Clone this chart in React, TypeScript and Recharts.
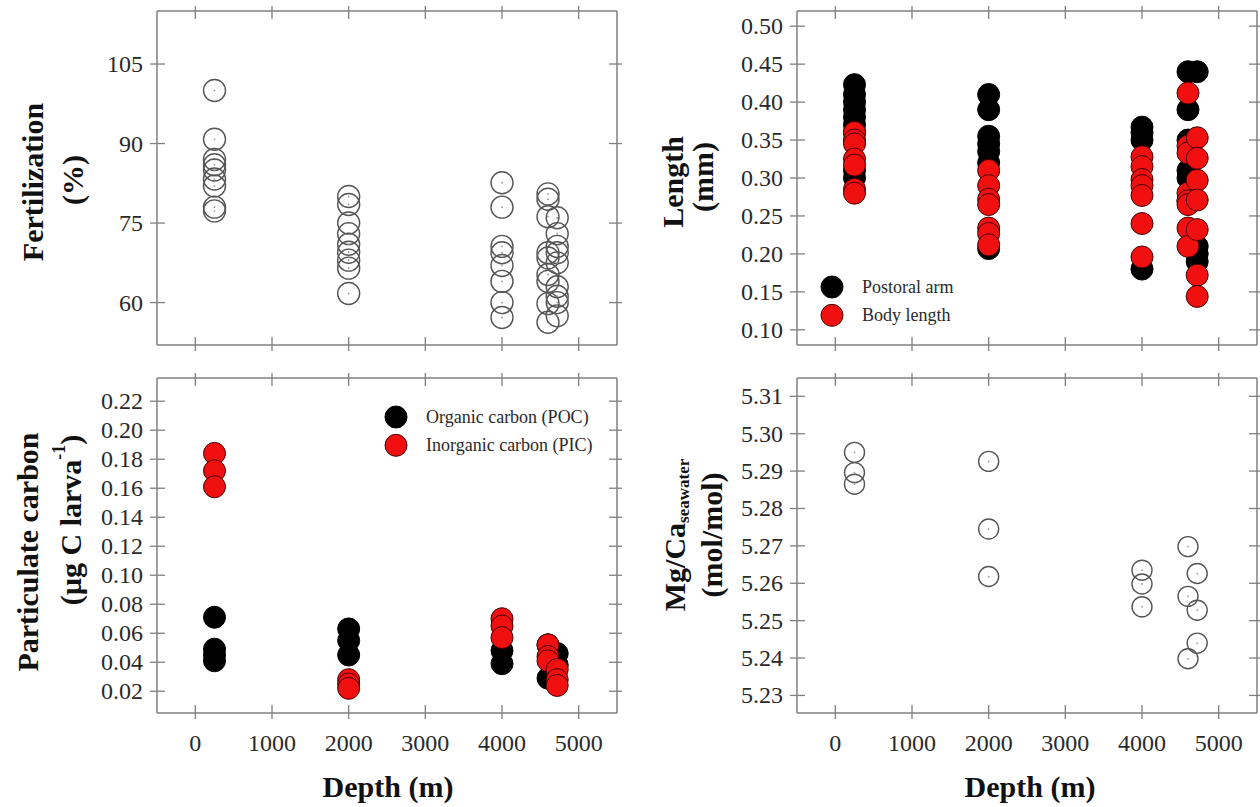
import React from 'react';
import { ScatterChart, Scatter, XAxis, YAxis, Legend } from 'recharts';

// sampling depths (m)
const SITES = [250, 2000, 4000, 4600, 4720];
const DEPTH_TICKS = [0, 1000, 2000, 3000, 4000, 5000];

// Fertilization (%)
const FERT_250 = [100, 90.8, 87, 86, 85, 83.3, 82, 78, 77.3];
const FERT_2000 = [80, 78.5, 75, 73, 71, 69.5, 68, 66.5, 61.7];
const FERT_4000 = [82.6, 78, 70.6, 69.4, 67, 64, 60, 57.2];
const FERT_4600 = [80.5, 79.5, 76.2, 69.4, 68.4, 65.3, 64, 59.8, 56.3];
const FERT_4720 = [76, 73, 70.6, 69.4, 67.5, 63, 61.2, 60, 57.5];
const FERT_TICKS = [60, 75, 90, 105];

// Length (mm)
const ARM_250 = [0.423, 0.41, 0.4, 0.39, 0.38, 0.37, 0.36, 0.31, 0.3];
const ARM_2000 = [0.41, 0.39, 0.355, 0.345, 0.335, 0.32, 0.207];
const ARM_4000 = [0.367, 0.36, 0.35, 0.18];
const ARM_4600 = [0.44, 0.39, 0.35, 0.31, 0.3, 0.27];
const ARM_4720 = [0.44, 0.21, 0.2, 0.19];
const BODY_250 = [0.36, 0.35, 0.345, 0.325, 0.317, 0.285, 0.28];
const BODY_2000 = [0.31, 0.29, 0.272, 0.265, 0.234, 0.227, 0.212];
const BODY_4000 = [0.328, 0.315, 0.298, 0.29, 0.277, 0.24, 0.196];
const BODY_4600 = [0.412, 0.342, 0.333, 0.28, 0.27, 0.265, 0.234, 0.21];
const BODY_4720 = [0.353, 0.326, 0.297, 0.271, 0.232, 0.172, 0.144];
const LEN_TICKS = [0.1, 0.15, 0.2, 0.25, 0.3, 0.35, 0.4, 0.45, 0.5];

// Particulate carbon (ug C per larva)
const POC_250 = [0.071, 0.049, 0.045, 0.041];
const POC_2000 = [0.063, 0.055, 0.045];
const POC_4000 = [0.048, 0.039];
const POC_4600 = [0.052, 0.029];
const POC_4720 = [0.046, 0.038];
const PIC_250 = [0.184, 0.172, 0.161];
const PIC_2000 = [0.028, 0.025, 0.022];
const PIC_4000 = [0.07, 0.065, 0.057];
const PIC_4600 = [0.052, 0.044, 0.041];
const PIC_4720 = [0.035, 0.028, 0.024];
const CARB_TICKS = [0.02, 0.04, 0.06, 0.08, 0.1, 0.12, 0.14, 0.16, 0.18, 0.2, 0.22];

// Mg/Ca seawater (mol/mol)
const MGCA_250 = [5.295, 5.2896, 5.2865];
const MGCA_2000 = [5.2926, 5.2745, 5.2618];
const MGCA_4000 = [5.2635, 5.2598, 5.2537];
const MGCA_4600 = [5.2698, 5.2565, 5.2398];
const MGCA_4720 = [5.2626, 5.2528, 5.244];
const MGCA_TICKS = [5.23, 5.24, 5.25, 5.26, 5.27, 5.28, 5.29, 5.3, 5.31];

const series = (groups: number[][]) =>
  groups.flatMap((vals, i) => vals.map(v => ({ depth: SITES[i], v })));

const fert = series([FERT_250, FERT_2000, FERT_4000, FERT_4600, FERT_4720]);
const arm = series([ARM_250, ARM_2000, ARM_4000, ARM_4600, ARM_4720]);
const body = series([BODY_250, BODY_2000, BODY_4000, BODY_4600, BODY_4720]);
const poc = series([POC_250, POC_2000, POC_4000, POC_4600, POC_4720]);
const pic = series([PIC_250, PIC_2000, PIC_4000, PIC_4600, PIC_4720]);
const mgca = series([MGCA_250, MGCA_2000, MGCA_4000, MGCA_4600, MGCA_4720]);

const FONT = '"Liberation Serif", "Times New Roman", serif';
const AXIS = '#808080';
const TXT = '#2a2a2a';
const RED = '#f01010';

// tick renderers: ticks cross the frame, labels only on left / bottom
const leftTick = (fmt: (v: number) => string) => (p: any) => (
  <g>
    <line x1={p.x - 7} x2={p.x + 8} y1={p.y} y2={p.y} stroke={AXIS} strokeWidth={1.3} />
    <text x={p.x - 14} y={p.y} textAnchor="end" dominantBaseline="central"
      fontSize={24} fontFamily={FONT} fill={TXT}>{fmt(p.payload.value)}</text>
  </g>
);
const bottomTick = (labels: boolean) => (p: any) => (
  <g>
    <line x1={p.x} x2={p.x} y1={p.y - 8} y2={p.y + 6} stroke={AXIS} strokeWidth={1.3} />
    {labels && (
      <text x={p.x} y={p.y + 30} textAnchor="middle" dominantBaseline="central"
        fontSize={24} fontFamily={FONT} fill={TXT}>{p.payload.value}</text>
    )}
  </g>
);
const topTick = (p: any) => (
  <line x1={p.x} x2={p.x} y1={p.y - 5} y2={p.y + 8} stroke={AXIS} strokeWidth={1.3} />
);
const rightTick = (p: any) => (
  <line x1={p.x - 8} x2={p.x + 5} y1={p.y} y2={p.y} stroke={AXIS} strokeWidth={1.3} />
);

const openCircle = (r: number) => (p: any) => (
  <g>
    <circle cx={p.cx} cy={p.cy} r={r} fill="none" stroke="#555" strokeWidth={1.4} />
    <circle cx={p.cx} cy={p.cy} r={0.9} fill="#999" />
  </g>
);
const dot = (fill: string, stroke: string) => (p: any) => (
  <circle cx={p.cx} cy={p.cy} r={11} fill={fill} stroke={stroke} strokeWidth={1} />
);

const titleStyle = { fontSize: 30, fontWeight: 700, fontFamily: FONT, fill: '#111' };

const vText = (x: number, y: number, children: React.ReactNode, key: string) => (
  <text key={key} x={x} y={y} transform={`rotate(-90 ${x} ${y})`} textAnchor="middle"
    dominantBaseline="central" style={titleStyle}>{children}</text>
);

const depthLabel = (x: number) => () => (
  <text x={x} y={432} textAnchor="middle" style={titleStyle}>Depth (m)</text>
);

// black series first, as in the figure
const legendContent = (p: any) => {
  const items = [...(p.payload || [])].sort((a: any, b: any) =>
    (a.color === '#000' ? 0 : 1) - (b.color === '#000' ? 0 : 1));
  return (
    <svg width={230} height={60}>
      {items.map((e: any, i: number) => (
        <g key={e.value}>
          <circle cx={12} cy={13 + i * 28.3} r={11} fill={e.color} stroke={i ? '#400' : '#000'} />
          <text x={42} y={13 + i * 28.3} dominantBaseline="central" fontSize={18}
            fontFamily={FONT} fill={TXT}>{e.value}</text>
        </g>
      ))}
    </svg>
  );
};

type PanelProps = {
  left: number; top: number; height: number; yWidth: number; bottom: number;
  domain: [number, number]; ticks: number[]; fmt: (v: number) => string;
  xLabels: boolean; yTitle: () => React.ReactNode; xTitle?: () => React.ReactNode;
  children: React.ReactNode;
};

const Panel = ({ left, top, height, yWidth, bottom, domain, ticks, fmt, xLabels, yTitle, xTitle, children }: PanelProps) => (
  <div style={{ position: 'absolute', left, top }}>
    <ScatterChart width={630} height={height}
      margin={{ top: top ? 12 : 10, right: 630 - yWidth - 460 - 1, bottom: 0, left: 0 }}>
      <XAxis xAxisId={0} dataKey="depth" type="number" domain={[-500, 5500]} ticks={DEPTH_TICKS}
        interval={0} allowDataOverflow height={bottom} tickSize={0} tickMargin={0} tickLine={false}
        axisLine={{ stroke: AXIS, strokeWidth: 1.5 }} tick={bottomTick(xLabels)}
        label={xTitle} />
      <XAxis xAxisId="top" orientation="top" dataKey="depth" type="number" domain={[-500, 5500]}
        ticks={DEPTH_TICKS} interval={0} allowDataOverflow height={1} tickSize={0} tickMargin={0}
        tickLine={false} axisLine={{ stroke: AXIS, strokeWidth: 1.5 }} tick={topTick} />
      <YAxis yAxisId={0} dataKey="v" type="number" domain={domain} ticks={ticks} interval={0}
        allowDataOverflow width={yWidth} tickSize={0} tickMargin={0} tickLine={false}
        axisLine={{ stroke: AXIS, strokeWidth: 1.5 }} tick={leftTick(fmt)} label={yTitle} />
      <YAxis yAxisId="right" orientation="right" dataKey="v" type="number" domain={domain}
        ticks={ticks} interval={0} allowDataOverflow width={1} tickSize={0} tickMargin={0}
        tickLine={false} axisLine={{ stroke: AXIS, strokeWidth: 1.5 }} tick={rightTick} />
      {children}
    </ScatterChart>
  </div>
);

export default function App() {
  return (
    <div style={{ position: 'absolute', left: 0, top: 0, width: 1260, height: 807, background: '#fff', overflow: 'hidden' }}>
      <Panel left={0} top={0} height={365} yWidth={157} bottom={20} domain={[52, 115]}
        ticks={FERT_TICKS} fmt={v => String(v)} xLabels={false}
        yTitle={() => <g>{vText(32, 182, 'Fertilization', 'a')}{vText(72, 180, '(%)', 'b')}</g>}>
        <Scatter name="Fertilization" data={fert} fill="none" shape={openCircle(11)} isAnimationActive={false} />
      </Panel>

      <Panel left={630} top={0} height={365} yWidth={167} bottom={20} domain={[0.08, 0.52]}
        ticks={LEN_TICKS} fmt={v => v.toFixed(2)} xLabels={false}
        yTitle={() => <g>{vText(42, 182, 'Length', 'a')}{vText(72, 177, '(mm)', 'b')}</g>}>
        <Scatter name="Postoral arm" data={arm} fill="#000" shape={dot('#000', '#000')} isAnimationActive={false} />
        <Scatter name="Body length" data={body} fill={RED} shape={dot(RED, '#400')} isAnimationActive={false} />
        <Legend layout="vertical" align="center" verticalAlign="middle" content={legendContent}
          wrapperStyle={{ left: 190, top: 274, width: 230 }} />
      </Panel>

      <Panel left={0} top={365} height={442} yWidth={157} bottom={94} domain={[0.005, 0.236]}
        ticks={CARB_TICKS} fmt={v => v.toFixed(2)} xLabels xTitle={depthLabel(388)}
        yTitle={() => (
          <g>
            {vText(27, 187, 'Particulate carbon', 'a')}
            {vText(70, 155, <>(µg C larva<tspan dy={-11} fontSize={18}>-1</tspan><tspan dy={11}>)</tspan></>, 'b')}
          </g>
        )}>
        <Scatter name="Organic carbon (POC)" data={poc} fill="#000" shape={dot('#000', '#000')} isAnimationActive={false} />
        <Scatter name="Inorganic carbon (PIC)" data={pic} fill={RED} shape={dot(RED, '#400')} isAnimationActive={false} />
        <Legend layout="vertical" align="center" verticalAlign="middle" content={legendContent}
          wrapperStyle={{ left: 384, top: 39, width: 230 }} />
      </Panel>

      <Panel left={630} top={365} height={442} yWidth={167} bottom={94} domain={[5.2253, 5.3149]}
        ticks={MGCA_TICKS} fmt={v => v.toFixed(2)} xLabels xTitle={depthLabel(400)}
        yTitle={() => (
          <g>
            {vText(44, 170, <>Mg/Ca<tspan dy={9} fontSize={17}>seawater</tspan></>, 'a')}
            {vText(81, 170, '(mol/mol)', 'b')}
          </g>
        )}>
        <Scatter name="Mg/Ca" data={mgca} fill="none" shape={openCircle(10)} isAnimationActive={false} />
      </Panel>
    </div>
  );
}
